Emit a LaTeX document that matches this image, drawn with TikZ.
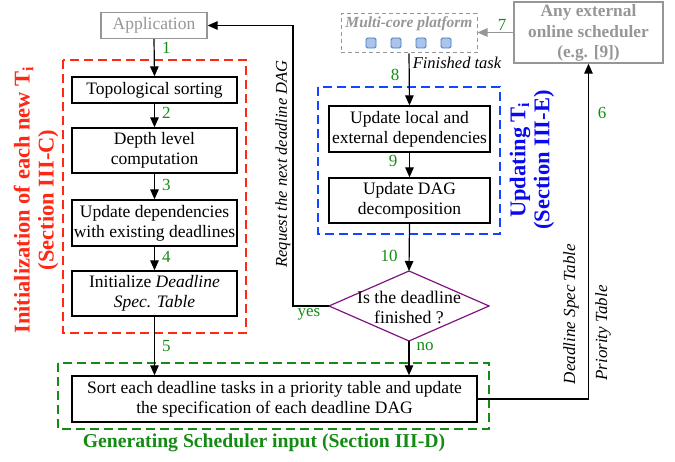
\documentclass[tikz,border=0pt]{standalone}
\usepackage{fontspec}
\setmainfont{Liberation Serif}
\usetikzlibrary{arrows.meta}
\definecolor{myred}{RGB}{255,40,20}
\definecolor{myblue}{RGB}{20,70,255}
\definecolor{titleblue}{RGB}{10,10,240}
\definecolor{mygreen}{RGB}{20,140,20}
\definecolor{mypurple}{RGB}{128,20,128}
\definecolor{mygray}{RGB}{150,150,150}
\definecolor{sqfill}{RGB}{170,196,235}
\definecolor{sqdraw}{RGB}{70,120,190}
\tikzset{
  procbox/.style={draw=black, line width=1.3pt, minimum width=#1, inner sep=0pt, align=center, font=\fontsize{17.5}{20}\selectfont},
  conn/.style={line width=1.2pt, -{Triangle[length=10pt,width=8.5pt]}},
  num/.style={text=mygreen, font=\fontsize{17}{19}\selectfont, inner sep=1pt},
  lab/.style={font=\fontsize{16.5}{18}\selectfont\itshape, inner sep=1pt},
  group/.style={line width=1.6pt, dash pattern=on 9pt off 5pt},
}
\begin{document}
\begin{tikzpicture}[x=1pt,y=-1pt]
\path[use as bounding box] (0,0) rectangle (675,462);
% group boxes
\draw[group, draw=myred] (63,60) rectangle (246,333);
\draw[group, draw=myblue] (318,87) rectangle (500,234);
\draw[group, draw=mygreen] (58,363) rectangle (489,429);
% process nodes
\node[procbox=106pt, minimum height=26pt, draw=mygray, text=mygray] (app) at (154,25.5) {Application};
\node[procbox=165pt, minimum height=26pt] (topo) at (154.5,90) {Topological sorting};
\node[procbox=165pt, minimum height=45pt] (depth) at (154.5,150.5) {Depth level\\computation};
\node[procbox=165pt, minimum height=46pt] (upd) at (154.5,223) {Update dependencies\\with existing deadlines};
\node[procbox=165pt, minimum height=45pt] (init) at (154.5,293.5) {Initialize \textit{Deadline}\\\textit{Spec. Table}};
\node[procbox=405pt, minimum height=46pt] (sort) at (274.5,399) {Sort each deadline tasks in a priority table and update\\the specification of each deadline DAG};
\node[procbox=161pt, minimum height=46pt] (local) at (409.5,129) {Update local and\\external dependencies};
\node[procbox=161pt, minimum height=45pt] (dag) at (409.5,200.5) {Update DAG\\decomposition};
% multi-core platform
\node[draw=mygray, line width=1pt, dash pattern=on 4pt off 3pt, minimum width=136pt, minimum height=39pt, inner sep=0pt] (mc) at (409,33.5) {};
\node[text=mygray, font=\fontsize{15.5}{17}\selectfont\bfseries\itshape, inner sep=0pt] (mct) at (409,24) {Multi-core platform};
\foreach \xx/\nm in {371/s1,396/s2,421/s3,446/s4}
  \node[draw=sqdraw, fill=sqfill, rounded corners=1.5pt, minimum size=10pt, inner sep=0pt, line width=0.8pt] (\nm) at (\xx,43) {};
% external scheduler
\node[draw=mygray, line width=1.3pt, minimum width=149pt, minimum height=61pt, inner sep=0pt] (ext) at (588.5,32.5) {};
\node[align=center, text=mygray, font=\fontsize{17.3}{20.5}\selectfont\bfseries, inner sep=0pt] (extt) at (588.5,33) {Any external\\online scheduler\\(e.g. [9])};
% diamond
\coordinate (dT) at (409,271);
\coordinate (dR) at (489,306);
\coordinate (dB) at (409,341);
\coordinate (dL) at (329,306);
\draw[draw=mypurple, line width=1.2pt] (dT) -- (dR) -- (dB) -- (dL) -- cycle;
\node[align=center, font=\fontsize{17.8}{20}\selectfont, inner sep=0pt] (dq) at (409,307) {Is the deadline\\finished ?};
% connectors
\draw[conn] (app.south) -- (topo.north);
\draw[conn] (topo.south) -- (depth.north);
\draw[conn] (depth.south) -- (upd.north);
\draw[conn] (upd.south) -- (init.north);
\draw[conn] (init.south) -- (init.south |- sort.north);
\draw[conn] (mc.south) -- (local.north);
\draw[conn] (local.south) -- (dag.north);
\draw[conn] (dag.south) -- (dT);
\draw[conn] (dB) -- (dB |- sort.north);
\coordinate (yc) at (293,306);
\draw[conn] (dL) -- (yc) |- (app.east);
\coordinate (sc) at (588.5,399);
\draw[conn] (sort.east) -- (sc) -- (ext.south);
\draw[line width=1.2pt, draw=mygray, -{Triangle[length=10pt,width=8.5pt]}, color=mygray] (ext.west) -- (ext.west -| mc.east);
% numbers
\node[num, anchor=west] (n1) at (161,48) {1};
\node[num, anchor=west] (n2) at (161,113) {2};
\node[num, anchor=west] (n3) at (161,185) {3};
\node[num, anchor=west] (n4) at (161,257) {4};
\node[num, anchor=west] (n5) at (161,346) {5};
\node[num] (n6) at (602,113) {6};
\node[num] (n7) at (502,25) {7};
\node[num] (n8) at (395,75) {8};
\node[num] (n9) at (393,161) {9};
\node[num] (n10) at (389,256) {10};
\node[num] (nyes) at (309,314) {yes};
\node[num] (nno) at (425,347) {no};
% labels
\node[lab] (ft) at (457,63) {Finished task};
\node[lab, rotate=90, font=\fontsize{16.5}{18}\selectfont\itshape] (req) at (283,164) {Request the next deadline DAG};
\node[lab, rotate=90, font=\fontsize{17}{18}\selectfont\itshape] (dst) at (571,314) {Deadline Spec Table};
\node[lab, rotate=90, font=\fontsize{17}{18}\selectfont\itshape] (pt) at (603,333) {Priority Table};
% titles
\node[text=mygreen, font=\fontsize{19.7}{22}\selectfont\bfseries, inner sep=0pt] (gt) at (264,443) {Generating Scheduler input (Section III-D)};
\node[text=myred, font=\fontsize{22.5}{24}\selectfont\bfseries, rotate=90, align=center, inner sep=0pt] (rt) at (36,200) {Initialization of each new T\textsubscript{i}\\(Section III-C)};
\node[text=titleblue, font=\fontsize{22.5}{24}\selectfont\bfseries, rotate=90, align=center, inner sep=0pt] (bt) at (532,160) {Updating T\textsubscript{i}\\(Section III-E)};
\end{tikzpicture}
\end{document}
